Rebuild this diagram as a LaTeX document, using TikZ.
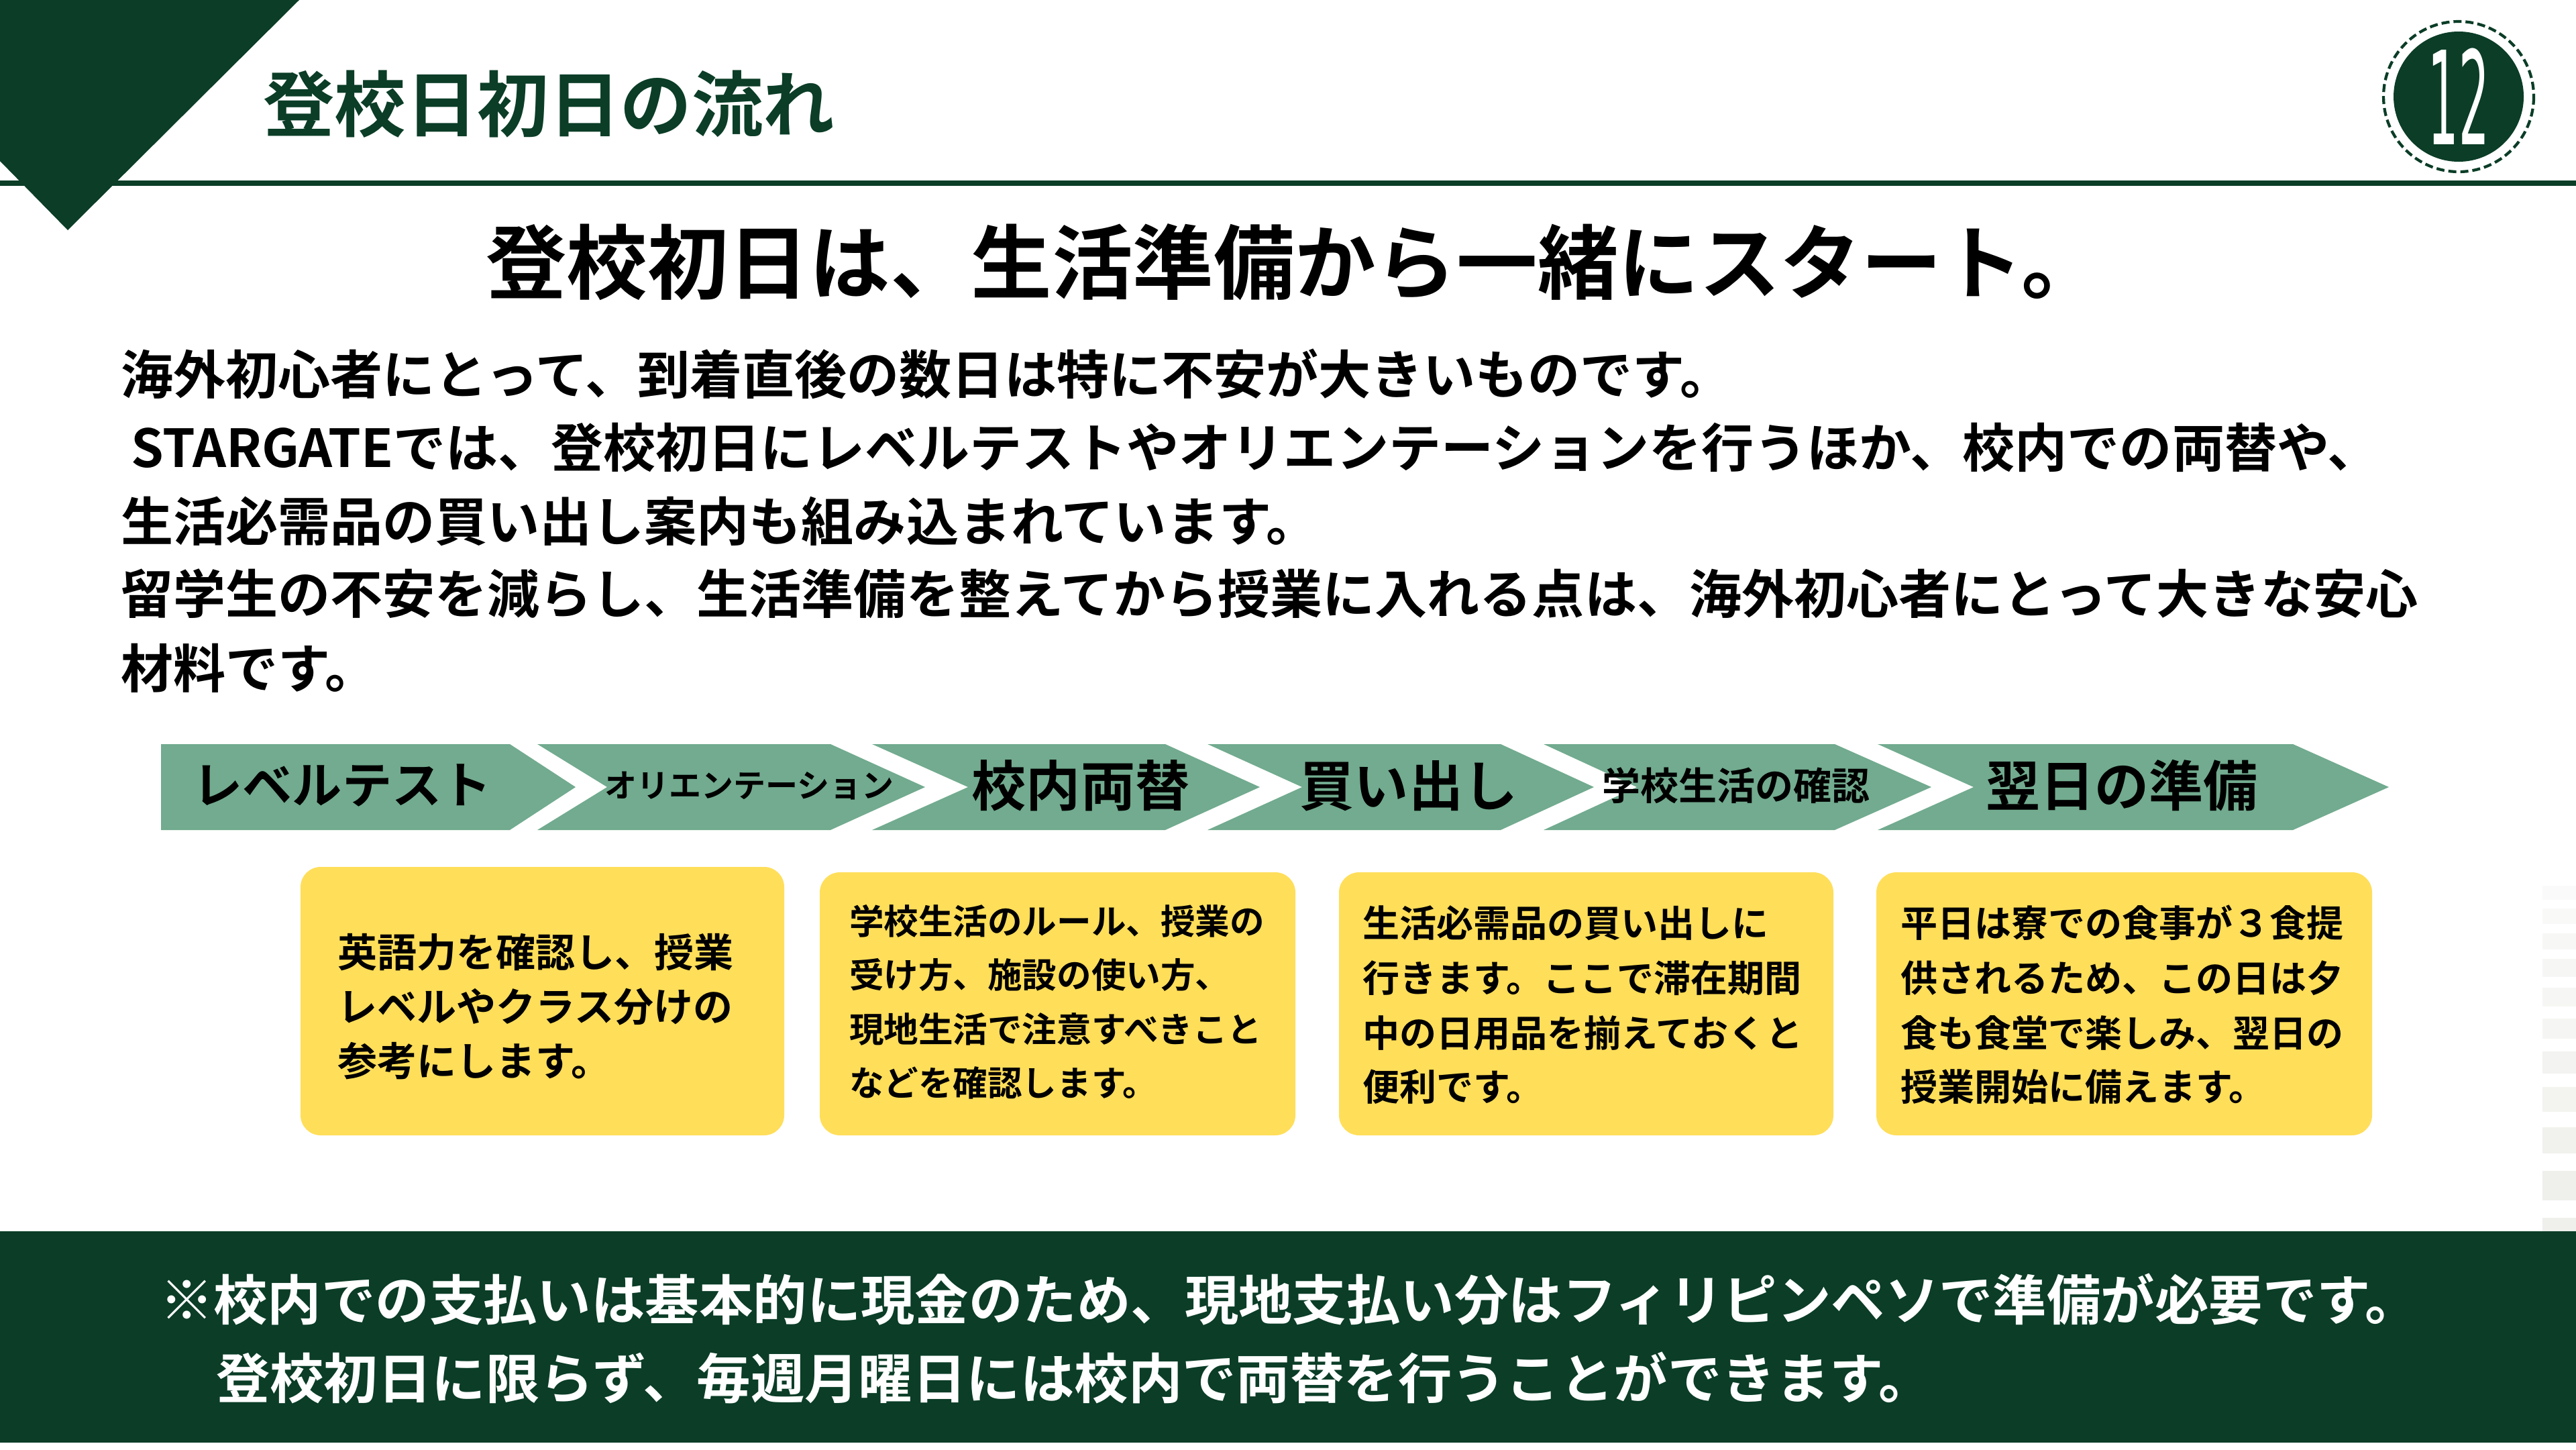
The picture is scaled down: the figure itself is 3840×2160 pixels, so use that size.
\documentclass[tikz,border=0pt]{standalone}
\usepackage{graphicx}
\usepackage{fontspec}
\setmainfont{Noto Sans CJK JP}[BoldFont={Noto Sans CJK JP Bold}]
\newfontfamily\digitfont{DejaVu Sans}
\definecolor{dkgreen}{HTML}{0B3D27}
\definecolor{chevgreen}{HTML}{72AB8F}
\definecolor{boxyellow}{HTML}{FFDE5A}
\definecolor{stripegray}{HTML}{EFEFEC}
\newcommand\fsz[1]{\fontsize{#1pt}{#1pt}\selectfont}
\tikzset{
  txt/.style={inner sep=0pt, outer sep=0pt, anchor=base west, font=\bfseries},
  ctxt/.style={inner sep=0pt, outer sep=0pt, anchor=center, font=\bfseries},
  chev/.style={fill=chevgreen, draw=none},
  ybox/.style={fill=boxyellow, draw=none, rounded corners=0.3cm},
  stripe/.style={fill=stripegray, draw=none},
}
\begin{document}
\begin{tikzpicture}[x=0.01cm, y=-0.01cm]
\useasboundingbox (0,0) rectangle (3840,2160);
\fill[white] (0,0) rectangle (3840,2160);

% header
\fill[dkgreen] (0,0) -- (446,0) -- (101,343) -- (0,240) -- cycle;
\fill[dkgreen] (0,269) rectangle (3840,277);
\node[txt, text=dkgreen, font=\bfseries\fsz{30.3}] (title) at (392,195) {登校日初日の流れ};

% page badge
\fill[dkgreen] (3665,144) circle (97);
\draw[dkgreen, line width=1.2pt, dash pattern=on 3.4pt off 1.7pt] (3665,144) circle (112);
\node[inner sep=0pt, text=white] (pagenum) at (3665,144) {\scalebox{0.37}[1]{\digitfont\fsz{55}12}};

% heading
\node[txt, text=black, font=\bfseries\fsz{34.3}] (heading) at (724,436) {登校初日は、生活準備から一緒にスタート。};

% paragraph
\begin{scope}[every node/.style={txt, text=black, font=\bfseries\fsz{22.2}}]
\node (p1) at (180,587) {海外初心者にとって、到着直後の数日は特に不安が大きいものです。};
\node (p2) at (180,696) {\hspace{4.3pt}STARGATEでは、登校初日にレベルテストやオリエンテーションを行うほか、校内での両替や、};
\node (p3) at (180,806) {生活必需品の買い出し案内も組み込まれています。};
\node (p4) at (180,914) {留学生の不安を減らし、生活準備を整えてから授業に入れる点は、海外初心者にとって大きな安心};
\node (p5) at (180,1025) {材料です。};
\end{scope}

% chevrons
\fill[chev] (240,1109) -- (760,1109) -- (858,1173) -- (760,1237) -- (240,1237) -- cycle;
\fill[chev] (801,1109) -- (1238,1109) -- (1379,1173) -- (1238,1237) -- (801,1237) -- (905,1173) -- cycle;
\fill[chev] (1300,1109) -- (1737,1109) -- (1878,1173) -- (1737,1237) -- (1300,1237) -- (1443,1173) -- cycle;
\fill[chev] (1800,1109) -- (2237,1109) -- (2376,1173) -- (2237,1237) -- (1800,1237) -- (1941,1173) -- cycle;
\fill[chev] (2301,1109) -- (2735,1109) -- (2879,1173) -- (2735,1237) -- (2301,1237) -- (2440,1173) -- cycle;
\fill[chev] (2799,1109) -- (3418,1109) -- (3561,1173) -- (3418,1237) -- (2799,1237) -- (2942,1173) -- cycle;
\node[ctxt, font=\bfseries\fsz{21.1}] (s1) at (510,1171) {レベルテスト};
\node[ctxt, font=\bfseries\fsz{13.66}] (s2) at (1117,1171) {オリエンテーション};
\node[ctxt, font=\bfseries\fsz{23.05}] (s3) at (1611,1171) {校内両替};
\node[ctxt, font=\bfseries\fsz{23.05}] (s4) at (2100,1171) {買い出し};
\node[ctxt, font=\bfseries\fsz{16.22}] (s5) at (2588,1171) {学校生活の確認};
\node[ctxt, font=\bfseries\fsz{23.05}] (s6) at (3163,1171) {翌日の準備};

% yellow boxes
\fill[ybox] (448,1292) rectangle (1169,1692);
\fill[ybox] (1222,1300) rectangle (1931,1692);
\fill[ybox] (1996,1300) rectangle (2733,1692);
\fill[ybox] (2797,1300) rectangle (3536,1692);

\begin{scope}[every node/.style={txt, text=black, font=\bfseries\fsz{16.79}}]
\node (b1a) at (503,1441) {英語力を確認し、授業};
\node (b1b) at (503,1522) {レベルやクラス分けの};
\node (b1c) at (503,1603) {参考にします。};
\end{scope}
\begin{scope}[every node/.style={txt, text=black, font=\bfseries\fsz{14.67}}]
\node (b2a) at (1266,1392) {学校生活のルール、授業の};
\node (b2b) at (1266,1472) {受け方、施設の使い方、};
\node (b2c) at (1266,1553) {現地生活で注意すべきこと};
\node (b2d) at (1266,1633) {などを確認します。};
\end{scope}
\begin{scope}[every node/.style={txt, text=black, font=\bfseries\fsz{15.65}}]
\node (b3a) at (2031,1396) {生活必需品の買い出しに};
\node (b3b) at (2031,1478) {行きます。ここで滞在期間};
\node (b3c) at (2031,1560) {中の日用品を揃えておくと};
\node (b3d) at (2031,1640) {便利です。};
\node (b4a) at (2833,1396) {平日は寮での食事が３食提};
\node (b4b) at (2833,1478) {供されるため、この日は夕};
\node (b4c) at (2833,1560) {食も食堂で楽しみ、翌日の};
\node (b4d) at (2833,1640) {授業開始に備えます。};
\end{scope}

% right-edge stripes
\fill[stripe, opacity=0.25] (3790,1320) rectangle (3840,1341);
\fill[stripe, opacity=0.35] (3790,1354) rectangle (3840,1377);
\fill[stripe, opacity=0.45] (3790,1391) rectangle (3840,1415);
\fill[stripe, opacity=0.5] (3790,1429) rectangle (3840,1456);
\fill[stripe, opacity=0.55] (3790,1472) rectangle (3840,1500);
\fill[stripe, opacity=0.6] (3790,1518) rectangle (3840,1548);
\fill[stripe, opacity=0.7] (3790,1567) rectangle (3840,1600);
\fill[stripe, opacity=0.75] (3790,1620) rectangle (3840,1657);
\fill[stripe, opacity=0.85] (3790,1680) rectangle (3840,1719);
\fill[stripe] (3790,1745) rectangle (3840,1789);
\fill[stripe] (3790,1815) rectangle (3840,1835);

% bottom band
\fill[dkgreen] (0,1835) rectangle (3840,2150);
\node[txt, text=white, font=\bfseries\fsz{22.87}] (n1) at (238,1967) {※校内での支払いは基本的に現金のため、現地支払い分はフィリピンペソで準備が必要です。};
\node[txt, text=white, font=\bfseries\fsz{22.87}] (n2) at (322,2084) {登校初日に限らず、毎週月曜日には校内で両替を行うことができます。};
\end{tikzpicture}
\end{document}
